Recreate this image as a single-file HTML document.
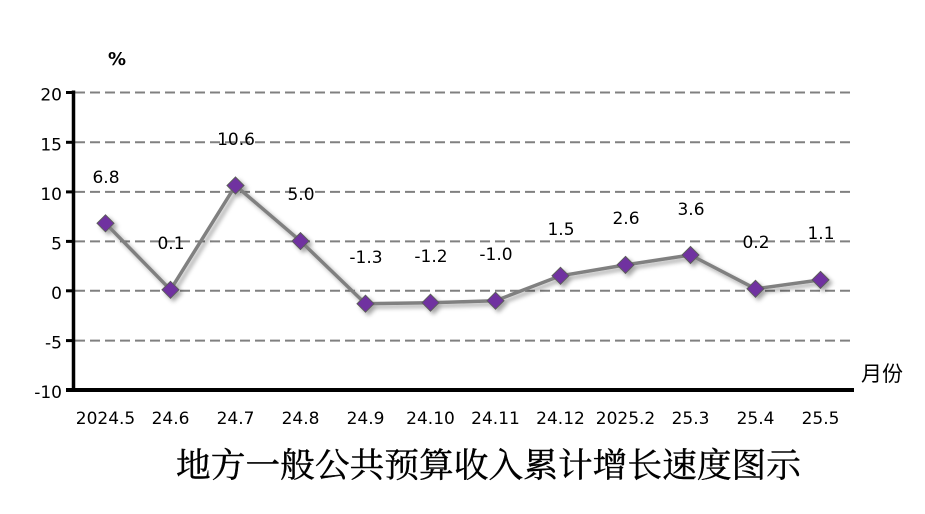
<!DOCTYPE html>
<html>
<head>
<meta charset="utf-8">
<style>
html,body{margin:0;padding:0;background:#fff;}
svg{display:block;}
</style>
</head>
<body>
<svg width="925" height="514" viewBox="0 0 925 514" xmlns="http://www.w3.org/2000/svg">
<defs>
<filter id="sh" x="-20%" y="-20%" width="140%" height="140%">
<feDropShadow dx="3" dy="3" stdDeviation="2" flood-color="#000" flood-opacity="0.35"/>
</filter>
</defs>
<rect width="925" height="514" fill="#fff"/>
<!-- grid -->
<g stroke="#808080" stroke-width="2" stroke-dasharray="10,5" fill="none">
<line x1="75" y1="92.5" x2="853" y2="92.5"/>
<line x1="75" y1="142.3" x2="853" y2="142.3"/>
<line x1="75" y1="191.9" x2="853" y2="191.9"/>
<line x1="75" y1="241.4" x2="853" y2="241.4"/>
<line x1="75" y1="290.8" x2="853" y2="290.8"/>
<line x1="75" y1="340.6" x2="853" y2="340.6"/>
</g>
<!-- axes -->
<g stroke="#000" fill="none">
<line x1="73.5" y1="90.5" x2="73.5" y2="392" stroke-width="3.5"/>
<line x1="66" y1="390" x2="854" y2="390" stroke-width="4"/>
<g stroke-width="3">
<line x1="66" y1="92.5" x2="74" y2="92.5"/>
<line x1="66" y1="142.3" x2="74" y2="142.3"/>
<line x1="66" y1="191.9" x2="74" y2="191.9"/>
<line x1="66" y1="241.4" x2="74" y2="241.4"/>
<line x1="66" y1="290.8" x2="74" y2="290.8"/>
<line x1="66" y1="340.6" x2="74" y2="340.6"/>
</g>
</g>
<!-- y labels -->
<g font-family="DejaVu Sans, sans-serif" font-size="17" fill="#000" text-anchor="end">
<text x="62" y="100.5">20</text>
<text x="62" y="150.3">15</text>
<text x="62" y="199.9">10</text>
<text x="62" y="249.4">5</text>
<text x="62" y="298.8">0</text>
<text x="62" y="348.6">-5</text>
<text x="62" y="398">-10</text>
</g>
<text x="117" y="65" font-family="DejaVu Sans, sans-serif" font-size="18" font-weight="bold" text-anchor="middle">%</text>
<text x="861" y="381" font-family="Liberation Sans, 'Noto Sans CJK SC', sans-serif" font-size="21">月份</text>
<!-- x labels -->
<g font-family="DejaVu Sans, sans-serif" font-size="17" fill="#000" text-anchor="middle">
<text x="105.5" y="424">2024.5</text>
<text x="170.5" y="424">24.6</text>
<text x="235.5" y="424">24.7</text>
<text x="300.5" y="424">24.8</text>
<text x="365.5" y="424">24.9</text>
<text x="430.5" y="424">24.10</text>
<text x="495.5" y="424">24.11</text>
<text x="560.5" y="424">24.12</text>
<text x="625.5" y="424">2025.2</text>
<text x="690.5" y="424">25.3</text>
<text x="755.5" y="424">25.4</text>
<text x="820.5" y="424">25.5</text>
</g>
<!-- series -->
<g filter="url(#sh)">
<polyline fill="none" stroke="#808080" stroke-width="3.5" stroke-linejoin="round"
points="105.5,223.3 170.5,289.8 235.5,185.5 300.5,241.1 365.5,303.7 430.5,302.7 495.5,300.7 560.5,275.8 625.5,264.9 690.5,255 755.5,288.8 820.5,279.9"/>
<g fill="#7030A0" stroke="#5c5c5c" stroke-width="1">
<path d="M105.5,214.8 l8.5,8.5 l-8.5,8.5 l-8.5,-8.5z"/>
<path d="M170.5,281.3 l8.5,8.5 l-8.5,8.5 l-8.5,-8.5z"/>
<path d="M235.5,177 l8.5,8.5 l-8.5,8.5 l-8.5,-8.5z"/>
<path d="M300.5,232.6 l8.5,8.5 l-8.5,8.5 l-8.5,-8.5z"/>
<path d="M365.5,295.2 l8.5,8.5 l-8.5,8.5 l-8.5,-8.5z"/>
<path d="M430.5,294.2 l8.5,8.5 l-8.5,8.5 l-8.5,-8.5z"/>
<path d="M495.5,292.2 l8.5,8.5 l-8.5,8.5 l-8.5,-8.5z"/>
<path d="M560.5,267.3 l8.5,8.5 l-8.5,8.5 l-8.5,-8.5z"/>
<path d="M625.5,256.4 l8.5,8.5 l-8.5,8.5 l-8.5,-8.5z"/>
<path d="M690.5,246.5 l8.5,8.5 l-8.5,8.5 l-8.5,-8.5z"/>
<path d="M755.5,280.3 l8.5,8.5 l-8.5,8.5 l-8.5,-8.5z"/>
<path d="M820.5,271.4 l8.5,8.5 l-8.5,8.5 l-8.5,-8.5z"/>
</g>
</g>
<!-- data labels -->
<g font-family="DejaVu Sans, sans-serif" font-size="17" fill="#000" text-anchor="middle">
<text x="106" y="183">6.8</text>
<text x="171" y="249">0.1</text>
<text x="236" y="145">10.6</text>
<text x="301" y="200">5.0</text>
<text x="366" y="263">-1.3</text>
<text x="431" y="262">-1.2</text>
<text x="496" y="260">-1.0</text>
<text x="561" y="235">1.5</text>
<text x="626" y="224">2.6</text>
<text x="691" y="215">3.6</text>
<text x="756" y="248">0.2</text>
<text x="821" y="239">1.1</text>
</g>
<!-- title -->
<text x="176" y="477" font-family="Liberation Serif, 'Noto Serif CJK SC', serif" font-size="34" textLength="625" lengthAdjust="spacingAndGlyphs" stroke="#000" stroke-width="0.4">地方一般公共预算收入累计增长速度图示</text>
</svg>
</body>
</html>
